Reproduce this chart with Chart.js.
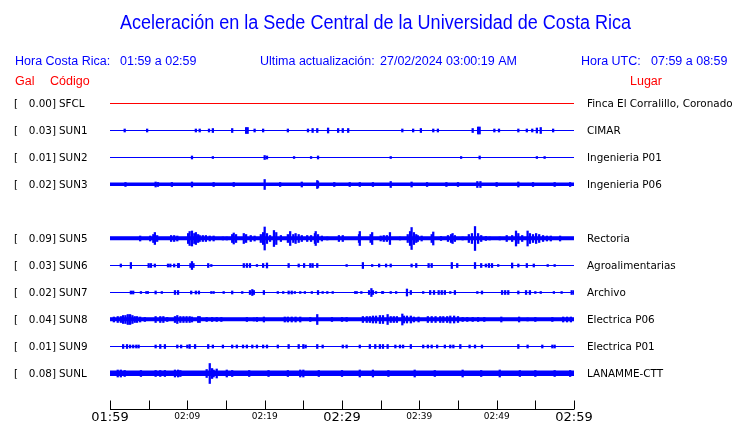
<!DOCTYPE html>
<html>
<head>
<meta charset="utf-8">
<script src="https://cdn.jsdelivr.net/npm/chart.js@4.4.1/dist/chart.umd.min.js"></script>
<style>
html, body { margin: 0; padding: 0; background: #fff; }
#wrap { width: 740px; height: 423px; position: relative; }
</style>
</head>
<body>
<div id="wrap"><canvas id="sismo"></canvas></div>
<script>
// rows top to bottom, SUN4 has no trace
const stationCodes = ["SFCL", "SUN1", "SUN2", "SUN3", "SUN4", "SUN5", "SUN6", "SUN7", "SUN8", "SUN9", "SUNL"];
const stationGal = [0.00, 0.03, 0.01, 0.02, null, 0.09, 0.03, 0.02, 0.04, 0.01, 0.08];
const stationPlaces = ["Finca El Corralillo, Coronado", "CIMAR", "Ingenieria P01", "Ingenieria P06", "",
    "Rectoria", "Agroalimentarias", "Archivo", "Electrica P06", "Electrica P01", "LANAMME-CTT"];
const noiseLevel = [0, 0, 0, 1.5, 0, 1.7, 0, 0, 1.7, 0, 2.5];

// minutes after 01:59 and labels every 10 min
const tickMinutes = [0, 10, 20, 30, 40, 50, 60];
const tickLabels = ["01:59", "02:09", "02:19", "02:29", "02:39", "02:49", "02:59"];

// [minute, half amplitude]
const sfclEvents = [];
const sun1Events = [[1.9,1.5],[4.8,1.5],[11.1,1.5],[11.6,1.5],[12.8,1.5],[13.3,2],[15.8,2],[17.6,3],[17.8,3],
    [18.7,1.5],[19.8,1.5],[23.0,1.5],[25.6,1.5],[26.2,2],[26.8,2],[28.2,2.5],[29.5,2],[30.1,2],[30.8,2],
    [37.8,1.5],[39.2,1.5],[40.2,2],[41.8,1.5],[42.4,1.5],[46.9,2],[47.6,3.5],[47.8,3.5],[49.7,1.5],[50.3,1.5],
    [52.8,1.5],[53.9,1.5],[54.6,1.5],[55.2,2.5],[55.7,3],[57.3,1.5]];
const sun2Events = [[10.6,1.5],[13.3,1],[20.0,2],[20.3,1.5],[23.8,1],[26.0,1],[26.9,1.5],[36.3,1],
    [45.4,1],[47.8,1.5],[55.2,1],[56.2,1]];
const sun3Events = [[2.0,2],[5.9,2.5],[6.2,2],[8.0,2],[10.6,2.5],[13.4,2],[16.0,2],[20.0,5],[22.0,2],
    [24.8,2.5],[26.8,4],[26.9,3],[29.0,2],[31.0,2],[32.3,2],[34.0,2],[36.3,3],[39.0,2.5],[41.0,2],
    [43.5,2],[45.0,2],[47.5,3],[47.9,3],[50.0,2],[52.8,2.5],[54.7,2],[57.5,2],[59.5,2]];
const sun4Events = [];
const sun5Events = [[3.9,2.5],[5.2,2.5],[5.6,4],[5.8,6],[6.1,3],[7.9,3],[8.3,3],[8.7,2.5],
    [10.1,5],[10.3,7],[10.6,7.5],[10.9,5],[11.1,6],[11.4,4],[11.6,3],[12.0,3],[12.4,3],[12.9,2.5],[13.4,2.5],
    [14.6,1.5],[15.1,1.5],[15.8,4],[16.0,5.5],[16.3,4],[17.3,5],[17.6,4],[18.2,3],[18.7,2.5],
    [19.5,4],[19.8,6],[20.0,11.5],[20.3,5],[20.7,3],[21.2,8],[21.5,6],[22.1,3],[23.0,4],[23.3,7],
    [23.7,4],[24.0,5],[24.4,4],[24.8,3],[25.5,3],[26.0,3],[26.5,5],[26.6,7],[26.9,4],[27.4,2.5],
    [28.1,1.5],[29.6,3],[30.1,3],[32.2,4],[32.3,7],[33.7,4],[33.9,6],[35.0,2.5],[35.4,3],[35.8,3],
    [36.2,6],[37.5,1.5],[38.5,4],[38.8,7],[39.0,11],[39.3,6],[39.6,4],[39.8,3],[40.3,2.5],[41.6,4],
    [41.8,6.5],[42.8,2],[43.7,3],[44.1,4],[44.3,5],[44.6,3],[45.6,1.5],[46.4,4],[46.8,5],[47.2,12],
    [47.6,5],[48.0,3],[48.6,2],[49.1,1.5],[50.4,1.5],[51.3,3],[52.0,3],[52.5,7.5],[52.8,5],[53.3,3],
    [54.0,7.5],[54.3,5],[54.7,4],[55.1,5],[55.5,4],[56.0,3],[56.5,2.5],[57.0,2.5],[58.2,2.5]];
const sun6Events = [[1.4,1.5],[2.7,3],[5.0,2],[5.3,2],[5.8,1.5],[7.5,1.5],[7.8,1.5],[8.3,1.5],[8.8,2],
    [8.9,2],[10.4,2],[10.6,4],[10.8,2],[12.7,2],[13.1,1],[17.3,2],[17.7,2],[18.1,2],[19.0,1],[19.8,2],
    [20.3,2.5],[23.1,2],[24.4,1.5],[25.1,2],[25.9,2],[26.2,2],[26.8,2],[30.6,1],[32.7,3],[33.9,1],
    [34.8,1.5],[35.7,1.5],[36.3,1.5],[39.0,1.5],[39.6,2],[41.2,2],[41.6,2],[44.2,3],[44.9,2],[47.2,3],
    [48.0,2],[48.6,1.5],[49.0,2],[49.4,2],[50.2,1],[52.0,2.5],[52.8,1.5],[53.9,2],[54.8,1.5],[56.6,1],[57.5,1]];
const sun7Events = [[2.7,1.5],[3.0,1.5],[4.0,1],[4.7,1],[4.9,1],[5.9,1.5],[6.7,1],[8.4,2],[8.8,2],
    [10.5,1.5],[11.1,1.5],[11.5,1.5],[13.1,1],[13.4,1],[14.7,1],[15.8,1.5],[17.1,1],[18.1,2],[18.4,3],
    [18.6,2],[19.9,2],[21.7,1],[22.4,1],[23.1,1.5],[23.5,1.5],[23.9,1],[24.6,1],[25.2,1],[26.1,1],
    [26.9,2],[27.5,1],[28.1,1],[28.8,1],[31.7,1],[31.9,1],[32.5,1],[33.5,2],[33.8,4],[34.0,2],[34.4,1],
    [35.2,1],[35.3,1],[36.3,1],[37.0,1],[38.4,3.5],[38.9,2],[40.5,1],[41.4,2],[41.9,2],[42.5,2],[42.9,2],
    [43.3,2],[44.0,1],[44.6,2],[47.5,1],[48.1,1.5],[50.7,2],[51.1,2],[51.5,2],[52.8,1.5],[53.8,2],
    [54.3,2],[55.0,1],[55.7,1],[57.4,1],[58.4,1],[59.7,2],[60.0,2]];
const sun8Events = [[0.5,2.5],[1.0,3],[1.4,3],[1.7,4],[2.0,4],[2.3,5],[2.6,5],[2.9,4],[3.2,3],[3.5,3],
    [3.9,2.5],[4.5,2],[5.9,3],[6.5,3],[6.9,3],[7.4,2],[8.4,3],[8.7,4],[9.1,3],[9.5,3],[9.9,3],[10.3,3],
    [10.6,2.5],[11.4,3],[11.6,3],[12.5,2],[13.2,2],[13.8,2],[14.4,2],[17.7,2],[18.6,1.5],[19.0,2],
    [19.9,2.5],[22.6,2.5],[23.0,2.5],[23.5,2.5],[24.0,2.5],[24.6,2.5],[25.9,2],[26.8,5],[28.7,2],
    [30.0,2],[30.6,2],[32.7,3],[33.2,3],[33.6,3],[34.0,3.5],[34.4,3.5],[34.9,4],[35.3,4],[35.9,5],
    [36.3,3],[36.7,3],[37.1,3],[37.8,5.5],[38.0,3.5],[38.4,3.5],[38.9,3.5],[39.3,2.5],[39.9,2.5],
    [41.1,3],[41.6,3],[42.1,3],[42.7,3],[43.1,3],[43.6,3],[44.0,3.5],[44.5,3.5],[45.0,3],[45.6,2],
    [46.2,2],[46.9,2],[47.6,2],[48.4,2],[50.6,2.5],[52.9,2.5],[54.0,1.5],[55.0,2],[57.2,2],[58.6,2.5],
    [59.1,2.5],[59.6,2.5]];
const sun9Events = [[1.7,2],[2.2,2],[2.6,1.5],[3.0,1.5],[3.4,1.5],[3.7,1.5],[5.9,1.5],[6.5,2],[7.1,2],
    [8.7,1.5],[9.2,1.5],[10.0,1.5],[10.3,2],[11.0,2],[12.7,2],[13.3,1.5],[14.6,1.5],[15.8,1.5],[16.4,1.5],
    [17.2,1.5],[17.7,1.5],[18.4,1.5],[19.0,1.5],[19.8,1.5],[20.3,1.5],[21.7,1.5],[23.1,2],[24.4,2],
    [25.0,2],[25.3,1.5],[26.8,2],[27.5,1.5],[30.1,1.5],[30.6,1.5],[32.3,1.5],[33.6,2],[34.3,2],[34.9,2],
    [35.3,2],[35.9,2],[36.9,1.5],[37.5,1.5],[37.9,1.5],[38.9,2],[40.5,1.5],[41.1,1.5],[41.6,1.5],
    [42.3,1.5],[43.3,1.5],[44.0,1.5],[44.4,1.5],[45.3,2],[46.5,1.5],[47.2,1.5],[48.1,1.5],[52.8,2],
    [54.0,1.5],[55.9,1.5],[57.2,1.5],[57.5,1.5]];
const sunlEvents = [[1.0,3.5],[1.4,3.5],[1.9,3],[4.0,3],[5.9,3],[6.5,3],[7.1,3],[8.4,3.5],[8.8,3.5],
    [9.1,3],[12.5,4],[12.9,10],[13.2,5],[13.4,3.5],[13.8,4.5],[15.1,3.5],[15.8,3],[18.0,3],[20.5,3],
    [23.0,3],[24.6,3.5],[25.0,3.5],[27.0,3],[30.0,3],[32.3,3.5],[34.0,3.5],[36.0,3],[39.4,3.5],[42.0,3],
    [45.6,3.5],[48.0,3],[50.4,3.5],[53.0,3],[55.0,3],[57.5,3],[59.5,3]];

const stationEvents = [sfclEvents, sun1Events, sun2Events, sun3Events, sun4Events, sun5Events,
    sun6Events, sun7Events, sun8Events, sun9Events, sunlEvents];

const GAIN = 1 / 27; // amplitude units per row
const BLUE = "#0000ff";
const RED = "#ff0000";

const datasets = [];

stationCodes.forEach((code, row) => {

    if (stationGal[row] === null) {
        return;
    }

    const color = row === 0 ? RED : BLUE;
    const n = noiseLevel[row] * GAIN;

    datasets.push({
        type: "line",
        data: [{ x: 0, y: row - n }, { x: 60, y: row - n }],
        borderColor: color,
        backgroundColor: color,
        borderWidth: 1,
        pointRadius: 0,
        fill: n > 0 ? { value: row + n } : false
    });

    datasets.push({
        type: "bar",
        data: stationEvents[row].map(e => ({
            x: e[0],
            y: [row - e[1] * GAIN, row + e[1] * GAIN]
        })),
        backgroundColor: color,
        borderWidth: 0,
        barThickness: 1.6,
        grouped: false
    });

});

const textPlugin = {
    id: "sismoText",
    afterDraw(chart) {

        const ctx = chart.ctx;
        const xs = chart.scales.x;
        const ys = chart.scales.y;

        ctx.save();
        ctx.textBaseline = "alphabetic";

        // title, squeezed a bit like the original
        const title = "Aceleración en la Sede Central de la Universidad de Costa Rica";
        ctx.font = '20px "Liberation Sans", Arial, sans-serif';
        ctx.fillStyle = BLUE;
        const tw = ctx.measureText(title).width;
        ctx.save();
        ctx.translate(120, 29);
        ctx.scale(511 / tw, 1);
        ctx.fillText(title, 0, 0);
        ctx.restore();

        ctx.font = '12.5px "Liberation Sans", Arial, sans-serif';
        ctx.fillText("Hora Costa Rica:", 15, 65);
        ctx.fillText("01:59 a 02:59", 120, 65);
        ctx.fillText("Ultima actualización:", 260, 65);
        ctx.fillText("27/02/2024 03:00:19 AM", 380, 65);
        ctx.fillText("Hora UTC:", 581, 65);
        ctx.fillText("07:59 a 08:59", 651, 65);

        ctx.fillStyle = RED;
        ctx.fillText("Gal", 15, 85);
        ctx.fillText("Código", 50, 85);
        ctx.fillText("Lugar", 630, 85);

        // station labels
        ctx.fillStyle = "#000";
        ctx.font = '10.4px "DejaVu Sans", sans-serif';
        stationCodes.forEach((code, row) => {
            if (stationGal[row] === null) return;
            const py = ys.getPixelForValue(row) + 3.5;
            ctx.textAlign = "left";
            ctx.fillText("[", 14, py);
            ctx.textAlign = "right";
            ctx.fillText(stationGal[row].toFixed(2) + "]", 56, py);
            ctx.textAlign = "left";
            ctx.fillText(code, 59, py);
            ctx.fillText(stationPlaces[row], 587, py);
        });

        // time axis, ticks pointing up
        const axisY = 409.5;
        ctx.strokeStyle = "#000";
        ctx.lineWidth = 1;
        ctx.beginPath();
        ctx.moveTo(xs.getPixelForValue(0), axisY);
        ctx.lineTo(xs.getPixelForValue(60), axisY);
        for (let m = 0; m <= 60; m += 5) {
            const px = Math.round(xs.getPixelForValue(m)) + 0.5;
            ctx.moveTo(px, axisY);
            ctx.lineTo(px, axisY - 9);
        }
        ctx.stroke();

        ctx.textAlign = "center";
        tickMinutes.forEach((m, i) => {
            const big = m % 30 === 0;
            ctx.font = (big ? "13px" : "9px") + ' "DejaVu Sans", sans-serif';
            ctx.fillText(tickLabels[i], xs.getPixelForValue(m), big ? 420.5 : 418.5);
        });

        ctx.restore();
    }
};

new Chart(
    document.getElementById("sismo"),
    {
        type: "bar",
        data: { datasets: datasets },
        options: {
            responsive: true,
            maintainAspectRatio: false,
            animation: false,
            events: [],
            layout: {
                padding: { left: 110, right: 166, top: 90, bottom: 14 }
            },
            scales: {
                x: {
                    type: "linear",
                    min: 0,
                    max: 60,
                    offset: false,
                    display: false
                },
                y: {
                    type: "linear",
                    reverse: true,
                    min: -0.5,
                    max: 11.3148,
                    display: false
                }
            },
            plugins: {
                legend: { display: false },
                tooltip: { enabled: false }
            }
        },
        plugins: [textPlugin]
    }
);
</script>
</body>
</html>
